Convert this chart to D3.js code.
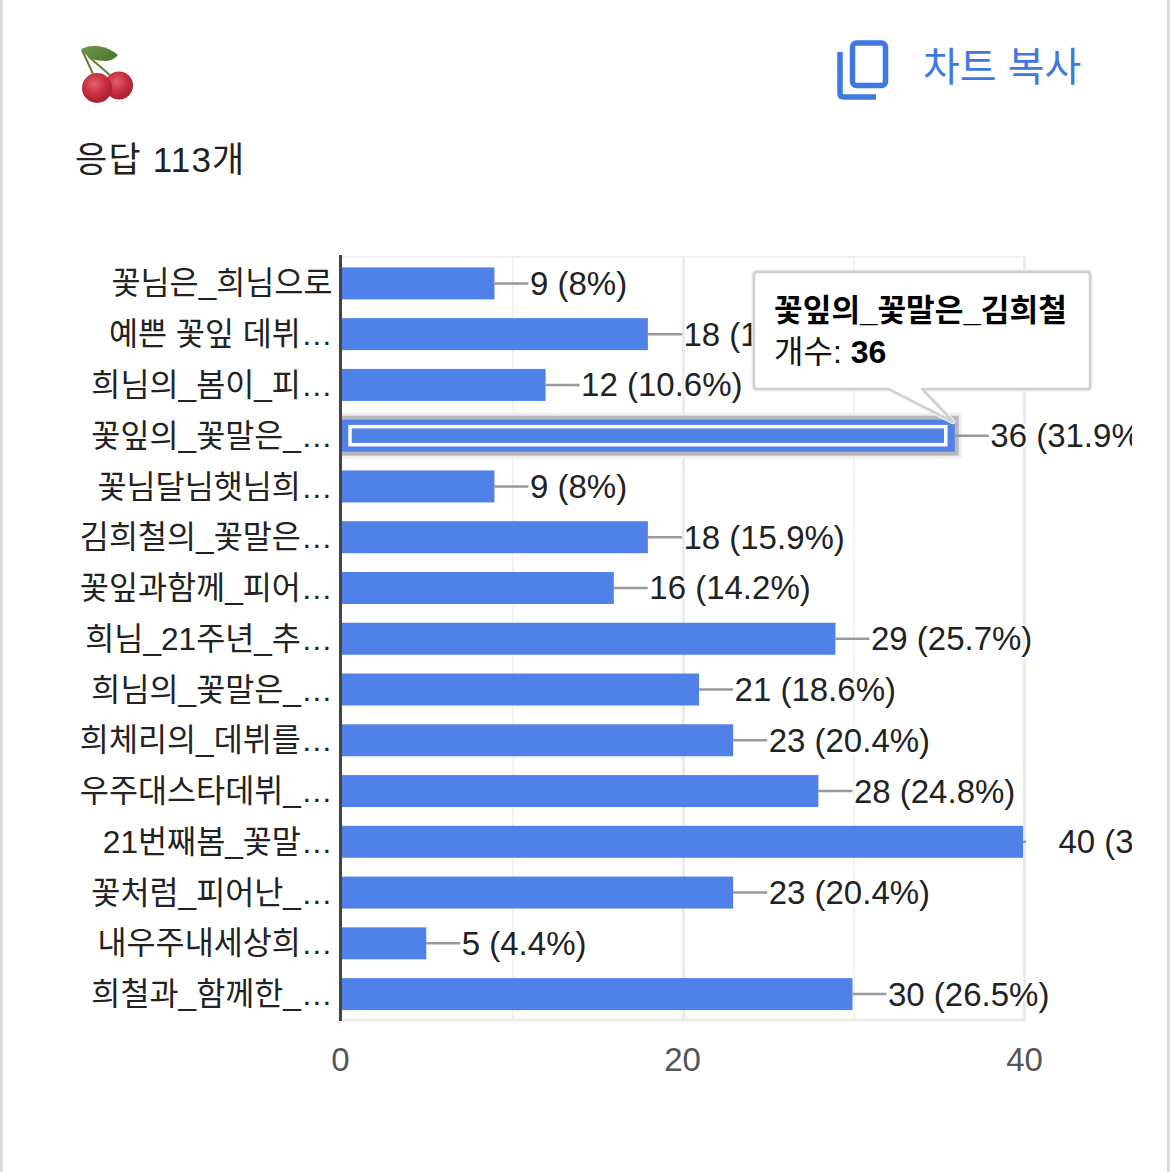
<!DOCTYPE html>
<html><head><meta charset="utf-8">
<script src="https://cdn.jsdelivr.net/npm/d3@7/dist/d3.min.js"></script>
<style>
html,body{margin:0;padding:0;background:#fff;overflow:hidden}
text{font-family:"Liberation Sans","Noto Sans CJK KR",sans-serif}
.halo{paint-order:stroke;stroke:#fff;stroke-width:4px;stroke-linejoin:round}
</style></head><body><svg id="c" width="1170" height="1172"></svg>
<script>
const categories=["꽃님은_희님으로","예쁜 꽃잎 데뷔…","희님의_봄이_피…","꽃잎의_꽃말은_…","꽃님달님햇님희…","김희철의_꽃말은…","꽃잎과함께_피어…","희님_21주년_추…","희님의_꽃말은_…","희체리의_데뷔를…","우주대스타데뷔_…","21번째봄_꽃말…","꽃처럼_피어난_…","내우주내세상희…","희철과_함께한_…"];
const counts=[9,18,12,36,9,18,16,29,21,23,28,40,23,5,30];
const percents=["8%","15.9%","10.6%","31.9%","8%","15.9%","14.2%","25.7%","18.6%","20.4%","24.8%","35.4%","20.4%","4.4%","26.5%"];
const xTicks=[0,20,40];
const xGrid=[10,20,30,40];
const highlighted=3;
const tooltipTitle="꽃잎의_꽃말은_김희철";
const tooltipLabel="개수: ";
const tooltipValue="36";
const responses="응답 113개";
const copyLabel="차트 복사";

const svg=d3.select("#c");
const BLUE="#4f81e8",INK="#222",AXIS="#444";
const x=d3.scaleLinear().domain([0,40]).range([341,1023]);
const xLabels=x.copy().range([340,1024]);
const y=d3.scaleBand().domain(d3.range(categories.length)).range([258,1019.5]).paddingInner(0.37).paddingOuter(0.185);

// page side stripes
svg.append("rect").attr("x",0).attr("y",0).attr("width",3).attr("height",1172).attr("fill","#dcdcdc");
svg.append("rect").attr("x",1167).attr("y",0).attr("width",3).attr("height",1172).attr("fill","#dcdcdc");

// cherry icon
const defs=svg.append("defs");
const g1=defs.append("radialGradient").attr("id","ch").attr("cx","0.42").attr("cy","0.36").attr("r","0.7");
g1.append("stop").attr("offset","0").attr("stop-color","#e2606e");
g1.append("stop").attr("offset","0.5").attr("stop-color","#c8303f");
g1.append("stop").attr("offset","1").attr("stop-color","#a01c2e");
const g2=defs.append("linearGradient").attr("id","leaf").attr("x1","0").attr("y1","0").attr("x2","1").attr("y2","0.5");
g2.append("stop").attr("offset","0").attr("stop-color","#6f9a50");
g2.append("stop").attr("offset","1").attr("stop-color","#4d7a2e");
defs.append("clipPath").attr("id","plot").append("rect").attr("x",0).attr("y",240).attr("width",1132).attr("height",800);
const ic=svg.append("g");
ic.append("path").attr("d","M82 50L94 76M88 56L112 77").attr("stroke","#6a7d2c").attr("stroke-width",2).attr("fill","none");
ic.append("path").attr("d","M81 49Q90 45 98 46Q110 48 118 55Q114 60 107 61Q95 61 90 58Q84 54 81 49Z").attr("fill","url(#leaf)");
ic.append("circle").attr("cx",119).attr("cy",85.500).attr("r",14).attr("fill","url(#ch)");
ic.append("circle").attr("cx",97).attr("cy",88).attr("r",15).attr("fill","url(#ch)");

svg.append("text").attr("x",75).attr("y",172).attr("font-size",35).attr("letter-spacing",1.2).attr("fill",INK).text(responses);

// copy icon + label
const cp=svg.append("g").attr("fill","none").attr("stroke","#3f78de").attr("stroke-width",5.5);
cp.append("rect").attr("x",852.5).attr("y",43).attr("width",33).attr("height",42.5).attr("rx",4);
cp.append("path").attr("d","M840 52V93.5Q840 97 843.500 97H876");
svg.append("text").attr("x",923).attr("y",81).attr("font-size",40).attr("fill","#3f78de").text(copyLabel);

// plot frame and grid
const grid=svg.append("g");
grid.selectAll("line.g").data(xGrid).join("line").attr("x1",d=>x(d)+1.5).attr("x2",d=>x(d)+1.5).attr("y1",257).attr("y2",1021)
 .attr("stroke",d=>d===10||d===30?"#f2f2f2":"#ebebeb").attr("stroke-width",d=>d===10||d===30?2:3);
grid.append("line").attr("x1",341).attr("x2",1026).attr("y1",257).attr("y2",257).attr("stroke","#f0f0f0").attr("stroke-width",2);
grid.append("line").attr("x1",341).attr("x2",1026).attr("y1",1020).attr("y2",1020).attr("stroke","#ebebeb").attr("stroke-width",3);

const rowC=i=>y(i)+y.bandwidth()/2;
const plot=svg.append("g").attr("clip-path","url(#plot)");

// highlight glow
const hi=plot.append("g");
[[7,"#eeeeee"],[4,"#b9b9b9"]].forEach(([p,c])=>{
 hi.append("rect").attr("x",x(0)).attr("y",y(highlighted)-p).attr("width",x(counts[highlighted])-x(0)+p).attr("height",y.bandwidth()+2*p).attr("fill",c);
});

// bars
plot.selectAll("rect.bar").data(counts).join("rect").attr("class","bar")
 .attr("x",x(0)).attr("y",(d,i)=>y(i)).attr("width",d=>x(d)-x(0)).attr("height",y.bandwidth()).attr("fill",BLUE);
plot.append("rect").attr("x",x(0)+9).attr("y",y(highlighted)+7).attr("width",x(counts[highlighted])-x(0)-18).attr("height",y.bandwidth()-14)
 .attr("fill",BLUE).attr("stroke","#fff").attr("stroke-width",3.5);

// leader lines and value labels
plot.selectAll("line.lead").data(counts).join("line").attr("class","lead")
 .attr("x1",d=>x(d)).attr("x2",d=>d===d3.max(counts)?x(d)+3:x(d)+34)
 .attr("y1",(d,i)=>rowC(i)).attr("y2",(d,i)=>rowC(i)).attr("stroke","#999").attr("stroke-width",2.5);
plot.selectAll("text.val").data(counts).join("text").attr("class","val halo")
 .attr("x",d=>x(d)+35.500).attr("y",(d,i)=>rowC(i)+11.500).attr("font-size",33).attr("fill",INK)
 .text((d,i)=>`${d} (${percents[i]})`);

// axes
const yA=svg.append("g").attr("transform","translate(341,0)").call(d3.axisLeft(y).tickSize(0).tickPadding(8.500).tickFormat(i=>categories[i]));
yA.select(".domain").attr("stroke",AXIS).attr("stroke-width",3).attr("d","M-0.500,255V1021");
yA.selectAll("text").attr("font-size",31.600).attr("fill",INK).attr("dy","0.35em").style("font-family",'"Liberation Sans","Noto Sans CJK KR",sans-serif');
const xA=svg.append("g").attr("transform","translate(0,1020)").call(d3.axisBottom(xLabels).tickValues(xTicks).tickSize(0).tickPadding(28).tickFormat(d3.format("d")));
xA.select(".domain").remove();
xA.selectAll("text").attr("font-size",33).attr("fill","#555").style("font-family",'"Liberation Sans",sans-serif');

// tooltip
const tip=svg.append("g");
const tx=x(counts[highlighted])-2;
const tTop=y(highlighted)+2;
const tipPath=`M757 272H1087Q1090 272 1090 275V386Q1090 389 1087 389H922L${tx} ${tTop}L889 389H757Q754 389 754 386V275Q754 272 757 272Z`;
tip.append("path").attr("d",tipPath).attr("fill","none").attr("stroke","#eeeeee").attr("stroke-width",5).attr("stroke-linejoin","round");
tip.append("path").attr("d",tipPath).attr("fill","#fff").attr("stroke","#cfcfcf").attr("stroke-width",2.500).attr("stroke-linejoin","round");
tip.append("text").attr("x",774).attr("y",321).attr("font-size",31.200).attr("font-weight",700).attr("fill","#000").text(tooltipTitle);
const tl=tip.append("text").attr("x",774).attr("y",363).attr("font-size",32).attr("fill","#111");
tl.append("tspan").text(tooltipLabel);
tl.append("tspan").attr("font-weight",700).attr("fill","#000").text(tooltipValue);
</script></body></html>
